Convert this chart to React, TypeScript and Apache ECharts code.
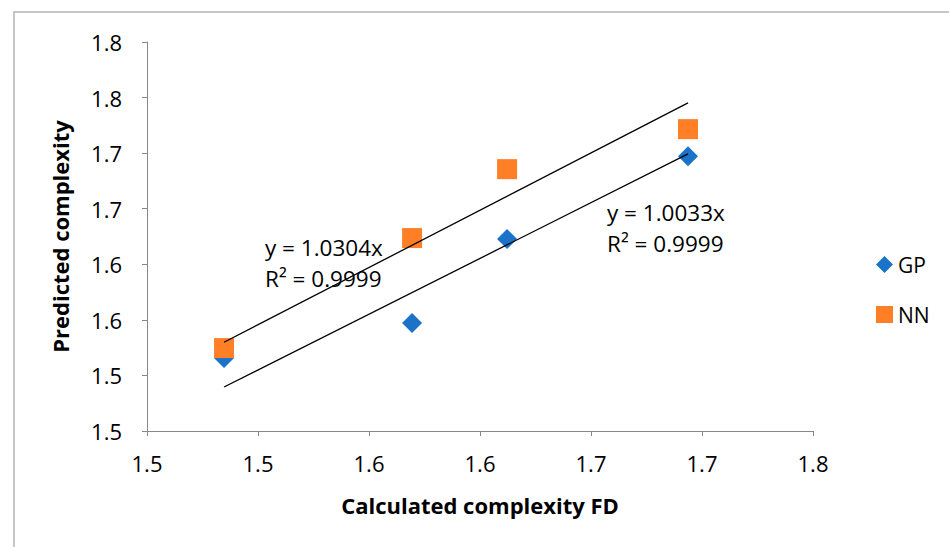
import React, { useEffect, useRef } from "react";
import * as echarts from "echarts";

const gpX = [1.4847, 1.5694, 1.6122, 1.6937];
const gpY = [1.5156, 1.5471, 1.6227, 1.6973];
const nnX = [1.4847, 1.5694, 1.6122, 1.6937];
const nnY = [1.5246, 1.6236, 1.6856, 1.7216];
const gpSlope = 1.0033;
const nnSlope = 1.0304;
const gpR2 = "0.9999";
const nnR2 = "0.9999";
const seriesNames = ["GP", "NN"];
const xTitle = "Calculated complexity FD";
const yTitle = "Predicted complexity";

const FONT = "'Open Sans', 'Noto Sans', sans-serif";

function trend(xs: number[], slope: number) {
  const lo = Math.min(...xs);
  const hi = Math.max(...xs);
  return [
    [lo, slope * lo],
    [hi, slope * hi],
  ];
}

const fmt = (v: number) => (Math.round(v * 10 + 1e-6) / 10).toFixed(1);

export default function App() {
  const ref = useRef<HTMLDivElement>(null);
  useEffect(() => {
    if (!ref.current) return;
    const chart = echarts.init(ref.current, undefined, { renderer: "svg" });
    const axisCommon = {
      type: "value" as const,
      interval: 0.05,
      axisLine: { show: true, lineStyle: { color: "#888888", width: 1 } },
      axisTick: { show: true, length: 5, lineStyle: { color: "#888888" } },
      splitLine: { show: false },
      axisLabel: {
        formatter: fmt,
        color: "#000",
        fontFamily: FONT,
        fontSize: 22,
      },
      nameLocation: "middle" as const,
      nameTextStyle: {
        color: "#000",
        fontFamily: FONT,
        fontWeight: "bold" as const,
        fontSize: 22,
      },
    };
    chart.setOption({
      animation: false,
      backgroundColor: "#ffffff",
      grid: { left: 147, top: 42, right: 136, bottom: 116, containLabel: false },
      xAxis: {
        ...axisCommon,
        min: 1.45,
        max: 1.75,
        name: xTitle,
        nameGap: 63,
        axisLabel: { ...axisCommon.axisLabel, margin: 21 },
      },
      yAxis: {
        ...axisCommon,
        min: 1.45,
        max: 1.8,
        name: yTitle,
        nameGap: 76,
        axisLabel: { ...axisCommon.axisLabel, margin: 25 },
      },
      legend: {
        orient: "vertical",
        left: 871,
        top: 249,
        itemWidth: 17,
        itemHeight: 17,
        itemGap: 29,
        textStyle: { color: "#000", fontFamily: FONT, fontSize: 21 },
        data: [
          { name: seriesNames[0], icon: "diamond" },
          { name: seriesNames[1], icon: "rect" },
        ],
      },
      graphic: [
        {
          type: "rect",
          shape: { x: 14, y: 12, width: 1200, height: 800 },
          style: { fill: "none", stroke: "#b4b4b4", lineWidth: 1.5 },
          silent: true,
          z: -10,
        },
        {
          type: "text",
          left: 265,
          top: 232,
          style: {
            text: `y = ${nnSlope.toFixed(4)}x\nR² = ${nnR2}`,
            font: `22.5px ${FONT}`,
            fill: "#000",
            lineHeight: 31,
          },
        },
        {
          type: "text",
          left: 607,
          top: 197,
          style: {
            text: `y = ${gpSlope.toFixed(4)}x\nR² = ${gpR2}`,
            font: `22.5px ${FONT}`,
            fill: "#000",
            lineHeight: 31,
          },
        },
      ],
      series: [
        {
          name: seriesNames[0],
          type: "scatter",
          symbol: "diamond",
          symbolSize: 20,
          itemStyle: { color: "#1a73c8", opacity: 1 },
          data: gpX.map((x, i) => [x, gpY[i]]),
          z: 3,
        },
        {
          name: seriesNames[1],
          type: "scatter",
          symbol: "rect",
          symbolSize: 20,
          itemStyle: { color: "#ff7f27", opacity: 1 },
          data: nnX.map((x, i) => [x, nnY[i]]),
          z: 4,
        },
        {
          name: "GP trend",
          type: "line",
          symbol: "none",
          lineStyle: { color: "#000", width: 1.3 },
          data: trend(gpX, gpSlope),
          z: 5,
        },
        {
          name: "NN trend",
          type: "line",
          symbol: "none",
          lineStyle: { color: "#000", width: 1.3 },
          data: trend(nnX, nnSlope),
          z: 5,
        },
      ],
    });
    return () => chart.dispose();
  }, []);
  return (
    <div
      ref={ref}
      style={{ position: "absolute", left: 0, top: 0, width: 949, height: 547 }}
    />
  );
}
